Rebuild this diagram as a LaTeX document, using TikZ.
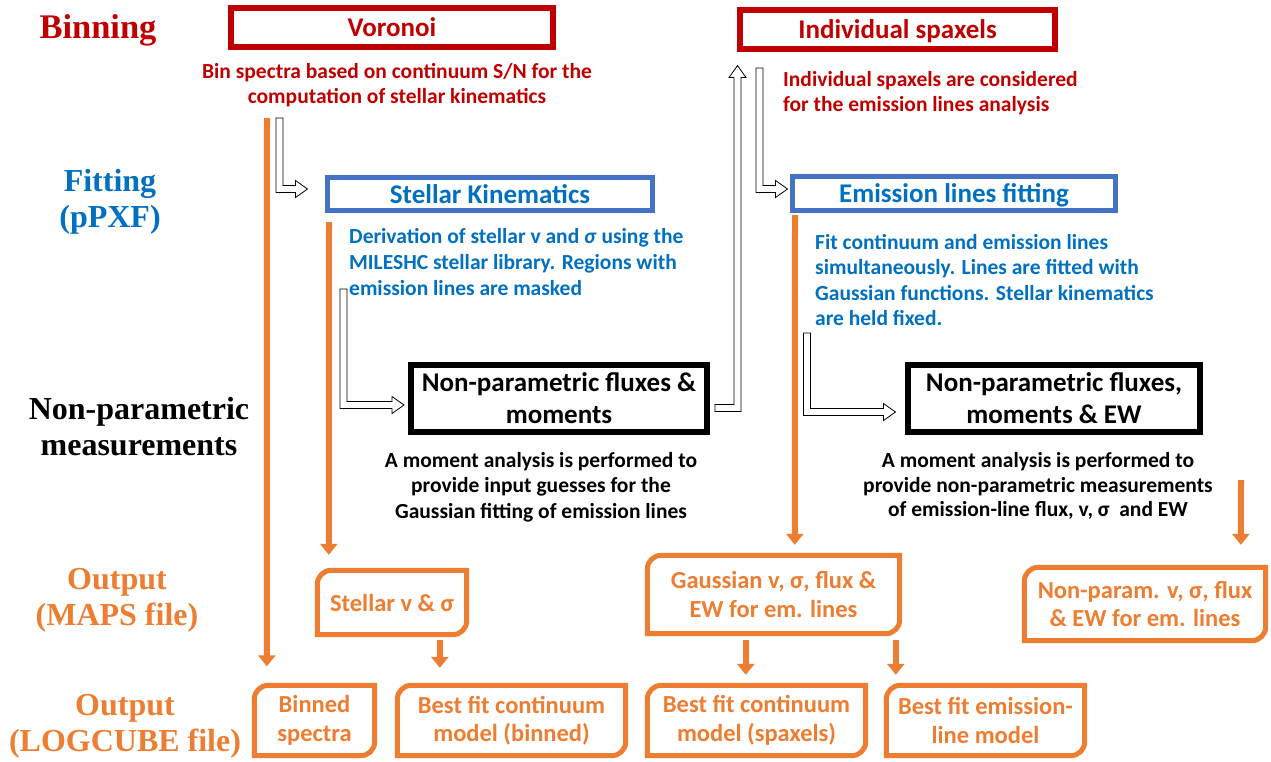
\documentclass[tikz,border=0pt]{standalone}
\usepackage{fontspec}
\setmainfont{Carlito}
\newfontfamily\tnr{Liberation Serif}
\usetikzlibrary{arrows.meta,calc}
\definecolor{dred}{HTML}{C00000}
\definecolor{tblue}{HTML}{0070C0}
\definecolor{bblue}{HTML}{4472C4}
\definecolor{orng}{HTML}{ED7D31}
\newcommand\Ldown[2]{\draw[hollow] let \p1=(#1),\p2=(#2) in
  (\x1-3.5pt,\y1) -- (\x1+3.5pt,\y1) -- (\x1+3.5pt,\y2+3.5pt) -- (\x2-12pt,\y2+3.5pt)
  -- (\x2-12pt,\y2+8.5pt) -- (\x2,\y2) -- (\x2-12pt,\y2-8.5pt) -- (\x2-12pt,\y2-3.5pt)
  -- (\x1-3.5pt,\y2-3.5pt) -- cycle;}
\newcommand\Rup[2]{\draw[hollow] let \p1=(#1),\p2=(#2) in
  (\x1,\y1+3.5pt) -- (\x2-3.5pt,\y1+3.5pt) -- (\x2-3.5pt,\y2-12pt) -- (\x2-8.5pt,\y2-12pt)
  -- (\x2,\y2) -- (\x2+8.5pt,\y2-12pt) -- (\x2+3.5pt,\y2-12pt) -- (\x2+3.5pt,\y1-3.5pt)
  -- (\x1,\y1-3.5pt) -- cycle;}
\newcommand\obox[1]{\draw[orng, line width=5pt, line join=miter] let \p1=(#1.north west), \p2=(#1.south east) in
  (\x1,\y1-14pt) arc[start angle=180,end angle=90,radius=14pt] -- (\x2,\y1) -- (\x2,\y2+14pt)
  arc[start angle=0,end angle=-90,radius=14pt] -- (\x1,\y2) -- cycle;}
\begin{document}
\begin{tikzpicture}[x=1pt,y=1pt,
  lab/.style={font=\tnr\bfseries\fontsize{32}{36}\selectfont, align=center, inner sep=0},
  boxtitle/.style={font=\bfseries\fontsize{27}{31}\selectfont, align=center, inner sep=0, line width=6pt},
  body/.style={font=\bfseries\fontsize{21.5}{25}\selectfont, inner sep=0},
  otext/.style={font=\bfseries\fontsize{24.5}{28.5}\selectfont, text=orng, align=center, inner sep=0},
  hollow/.style={draw=black, line width=0.8pt, fill=white, line join=miter},
  oarr/.style={draw=orng, line width=6pt, -{Triangle[width=17pt,length=11pt]}}
]
\fill[white] (0,0) rectangle (1271,-761);
\useasboundingbox (0,0) rectangle (1271,-761);

% left labels
\node[lab, text=dred, font=\tnr\bfseries\fontsize{34.5}{36}\selectfont] (lbin) at (98,-30) {Binning};
\node[lab, text=tblue] (lfit) at (110,-202) {Fitting\\(pPXF)};
\node[lab, text=black] (lnp) at (139,-427) {Non-parametric\\measurements};
\node[lab, text=orng] (lmaps) at (117,-600) {Output\\(MAPS file)};
\node[lab, text=orng] (lcube) at (125,-726) {Output\\(LOGCUBE file)};

% binning boxes
\node[boxtitle, draw=dred, text=dred, minimum width=322pt, minimum height=39pt] (vor) at (392,-27.5) {Voronoi};
\node[boxtitle, draw=dred, text=dred, text depth=0pt, minimum width=315pt, minimum height=39pt] (ind) at (897.5,-29.5) {Individual spaxels};
\node[body, text=dred, align=center] (binT) at (397,-85) {Bin spectra based on continuum S/N for the\\computation of stellar kinematics};
\node[body, text=dred, align=left, anchor=west] (indT) at (783,-93.5) {Individual spaxels are considered\\for the emission lines analysis};

% fitting boxes
\node[boxtitle, draw=bblue, text=tblue, line width=5pt, minimum width=325pt, minimum height=33pt] (sk) at (490,-194) {Stellar Kinematics};
\node[boxtitle, draw=bblue, text=tblue, text depth=0pt, line width=5pt, minimum width=323pt, minimum height=34pt] (el) at (954,-193.5) {Emission lines fitting};
\node[body, text=tblue, align=left, anchor=west, font=\bfseries\fontsize{21.5}{26}\selectfont] (skT) at (349,-262) {Derivation of stellar v and \textit{σ} using the\\MILESHC stellar library. Regions with\\emission lines are masked};
\node[body, text=tblue, align=left, anchor=west, font=\bfseries\fontsize{21.5}{25.3}\selectfont] (elT) at (815,-280) {Fit continuum and emission lines\\simultaneously. Lines are fitted with\\Gaussian functions. Stellar kinematics\\are held fixed.};

% non-parametric boxes
\node[boxtitle, draw=black, text=black, font=\bfseries\fontsize{27}{32}\selectfont, minimum width=296pt, minimum height=67pt] (np1) at (559,-398.5) {Non-parametric fluxes \&\\moments};
\node[boxtitle, draw=black, text=black, font=\bfseries\fontsize{27}{32}\selectfont, minimum width=292pt, minimum height=67pt] (np2) at (1054,-398.5) {Non-parametric fluxes,\\moments \& EW};
\node[body, text=black, align=center, font=\bfseries\fontsize{21.5}{25.5}\selectfont] (npT1) at (541,-487) {A moment analysis is performed to\\provide input guesses for the\\Gaussian fitting of emission lines};
\node[body, text=black, align=center, font=\bfseries\fontsize{21.5}{24.5}\selectfont] (npT2) at (1038,-486) {A moment analysis is performed to\\provide non-parametric measurements\\of emission-line flux, v, σ~ and EW};

% output boxes (MAPS)
\node[otext, minimum width=149pt, minimum height=64pt] (osv) at (392,-602.5) {Stellar v \& σ};
\node[otext, minimum width=252pt, minimum height=78pt] (ogs) at (773.5,-594.5) {Gaussian v, σ, flux \&\\EW for em. lines};
\node[otext, minimum width=241pt, minimum height=73pt] (onp) at (1145,-604) {Non-param. v, σ, flux\\\& EW for em. lines};
% output boxes (LOGCUBE)
\node[otext, minimum width=120pt, minimum height=70pt] (obin) at (314.5,-720.5) {Binned\\spectra};
\node[otext, minimum width=228pt, minimum height=70pt] (obfb) at (511.5,-720.5) {Best fit continuum\\model (binned)};
\node[otext, minimum width=218pt, minimum height=70pt] (obfs) at (756.5,-720.5) {Best fit continuum\\model (spaxels)};
\node[otext, minimum width=198pt, minimum height=70pt] (obfe) at (985.5,-720.5) {Best fit emission-\\line model};
\foreach \b in {osv,ogs,onp,obin,obfb,obfs,obfe} {\obox{\b}}

% hollow arrows
\coordinate (h1s) at (279.5,-118);
\coordinate (h1e) at ($(sk.west)+(-17.5,5)$);
\Ldown{h1s}{h1e}
\coordinate (h2s) at (343.5,-289);
\coordinate (h2e) at ($(np1.west)+(-4,-6.5)$);
\Ldown{h2s}{h2e}
\coordinate (h3s) at ($(np1.east)+(5,-9.5)$);
\coordinate (h3e) at ($(ind.south west)+(0.5,-13.5)$);
\Rup{h3s}{h3e}
\coordinate (h4s) at (759.5,-68);
\coordinate (h4e) at ($(el.west)+(-2.5,4.5)$);
\Ldown{h4s}{h4e}
\coordinate (h5s) at (807,-333);
\coordinate (h5e) at ($(np2.west)+(-9.5,-13.5)$);
\Ldown{h5s}{h5e}

% orange arrows
\coordinate (a1s) at (267,-118);
\coordinate (a1e) at ($(obin.north west)+(12.5,19)$);
\draw[oarr] (a1s) -- (a1e);
\coordinate (a2s) at (329,-222);
\coordinate (a2e) at ($(osv.north west)+(11.5,15.5)$);
\draw[oarr] (a2s) -- (a2e);
\coordinate (a3s) at (795,-215);
\coordinate (a3e) at ($(ogs.north west)+(147.5,10.5)$);
\draw[oarr] (a3s) -- (a3e);
\coordinate (a4s) at (1241,-480);
\coordinate (a4e) at ($(onp.north west)+(216.5,22.5)$);
\draw[oarr] (a4s) -- (a4e);
\coordinate (a5s) at ($(osv.south west)+(122.5,-5.5)$);
\coordinate (a5e) at ($(obfb.north west)+(42.5,17.5)$);
\draw[oarr] (a5s) -- (a5e);
\coordinate (a6s) at ($(ogs.south west)+(98.5,-6.5)$);
\coordinate (a6e) at ($(obfs.north west)+(98.5,10.5)$);
\draw[oarr] (a6s) -- (a6e);
\coordinate (a7s) at ($(ogs.south west)+(248.5,-6.5)$);
\coordinate (a7e) at ($(obfe.north west)+(9.5,10.5)$);
\draw[oarr] (a7s) -- (a7e);
\end{tikzpicture}
\end{document}
